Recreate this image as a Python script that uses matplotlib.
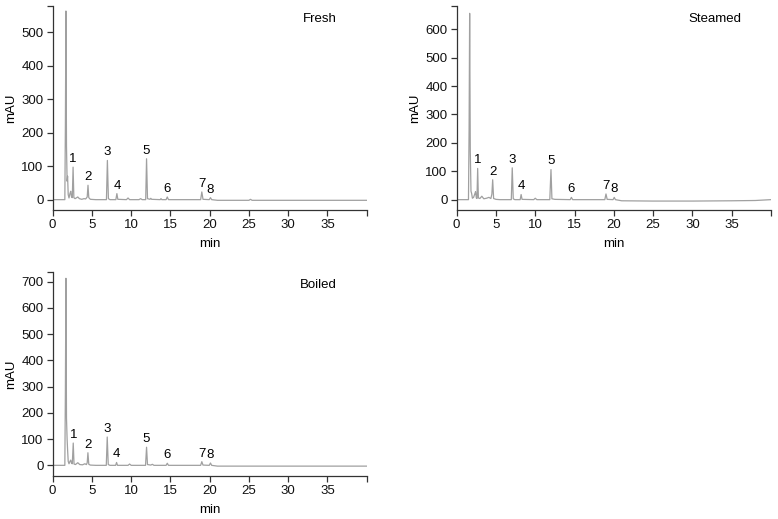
import matplotlib.pyplot as plt

plt.rcParams['font.family'] = ['Liberation Sans', 'DejaVu Sans']
plt.rcParams['font.size'] = 9.5

# Chromatogram traces (time in min, signal in mAU)
fresh_time = [0, 1.55, 1.62, 1.69, 1.76, 1.84, 1.9, 1.98, 2.08, 2.2, 2.3, 2.4, 2.5, 2.6, 2.7,
              2.85, 3.0, 3.2, 3.4, 3.7, 4.0, 4.2, 4.4, 4.5, 4.6, 4.8, 5.5, 6.85, 6.97, 7.1,
              7.3, 8.05, 8.18, 8.3, 9.4, 9.6, 9.8, 11.0, 11.2, 11.4, 11.85, 11.96, 12.08, 12.4,
              12.5, 12.6, 13.7, 13.8, 13.9, 14.45, 14.6, 14.75, 18.85, 19.0, 19.15, 19.95,
              20.1, 20.25, 21.0, 25.0, 25.2, 25.4, 30.0, 40.0]
fresh_signal = [0, 0, 220, 563, 160, 55, 70, 15, 5, 18, 25, 8, 6, 97, 6,
                3, 5, 8, 3, 1, 3, 2, 8, 43, 6, 1, 0, 0, 117, 3,
                0, 0, 18, 1, 0, 5, 0, 0, 3, 0, 0, 122, 3, 1,
                4, 1, 0, 3, 0, 0, 8, 0, 0, 23, 1, 0,
                6, 0, -2, -2, 1, -2, -2, -2]

steamed_time = [0, 1.5, 1.58, 1.65, 1.73, 1.82, 1.9, 2.0, 2.15, 2.3, 2.4, 2.5, 2.58, 2.67, 2.76,
                2.95, 3.2, 3.45, 3.8, 4.1, 4.35, 4.48, 4.58, 4.7, 5.0, 5.5, 6.95, 7.07, 7.2,
                7.4, 8.08, 8.2, 8.32, 9.8, 10.0, 10.2, 11.85, 12.0, 12.12, 12.5, 14.45, 14.6,
                14.75, 18.85, 19.0, 19.15, 19.9, 20.05, 20.2, 21.0, 25.0, 30.0, 35.0, 38.0, 40.0]
steamed_signal = [0, 0, 250, 656, 170, 30, 22, 5, 8, 20, 28, 6, 4, 110, 6,
                  4, 12, 3, 5, 8, 4, 20, 70, 4, 1, 0, 0, 112, 3,
                  0, 0, 18, 1, 0, 5, 0, 0, 106, 3, 1, 0, 8,
                  0, 0, 20, 1, 0, 8, 0, -4, -5, -5, -4, -3, 0]

boiled_time = [0, 1.55, 1.62, 1.69, 1.76, 1.84, 1.9, 1.98, 2.08, 2.2, 2.3, 2.4, 2.5, 2.62, 2.72,
               2.9, 3.2, 3.45, 3.8, 4.1, 4.3, 4.4, 4.49, 4.6, 4.8, 5.5, 6.83, 6.95, 7.08, 7.3,
               8.02, 8.14, 8.26, 9.6, 9.8, 10.0, 11.83, 11.96, 12.08, 12.5, 12.7, 12.9, 14.45,
               14.6, 14.75, 18.85, 19.0, 19.15, 19.95, 20.1, 20.25, 21.0, 25.0, 30.0, 40.0]
boiled_signal = [0, 0, 280, 713, 180, 100, 60, 15, 6, 15, 20, 8, 6, 85, 5,
                 3, 10, 3, 2, 6, 3, 10, 48, 4, 1, 0, 0, 108, 3, 0,
                 0, 11, 0, 0, 5, 0, 0, 69, 3, 1, 4, 0, 0,
                 8, 0, 0, 14, 1, 0, 9, 0, -3, -3, -3, -3]

# Peak labels 1-8: retention time and apex height per sample
label_names = ['1', '2', '3', '4', '5', '6', '7', '8']
fresh_peak_rt = [2.6, 4.5, 6.97, 8.18, 11.96, 14.6, 19.0, 20.1]
fresh_peak_h = [97, 43, 117, 18, 122, 8, 23, 6]
steamed_peak_rt = [2.67, 4.58, 7.07, 8.2, 12.0, 14.6, 19.0, 20.05]
steamed_peak_h = [110, 70, 112, 18, 106, 8, 20, 8]
boiled_peak_rt = [2.62, 4.49, 6.95, 8.14, 11.96, 14.6, 19.0, 20.1]
boiled_peak_h = [85, 48, 108, 11, 69, 8, 14, 9]

panels = [
    ('Fresh', fresh_time, fresh_signal, fresh_peak_rt, fresh_peak_h, 578, [0, 100, 200, 300, 400, 500]),
    ('Steamed', steamed_time, steamed_signal, steamed_peak_rt, steamed_peak_h, 682,
     [0, 100, 200, 300, 400, 500, 600]),
    ('Boiled', boiled_time, boiled_signal, boiled_peak_rt, boiled_peak_h, 737,
     [0, 100, 200, 300, 400, 500, 600, 700]),
]
positions = [[0.0677, 0.5948, 0.4036, 0.3937],
             [0.587, 0.5948, 0.404, 0.3937],
             [0.0677, 0.0829, 0.4036, 0.393]]

fig = plt.figure(figsize=(7.78, 5.19), dpi=100)

for (name, t, s, rt, h, ytop, yt), pos in zip(panels, positions):
    ax = fig.add_axes(pos)
    ax.plot(t, s, color='#a0a0a0', lw=0.9)
    ax.set_xlim(0, 40)
    ax.set_ylim(-0.055 * ytop, ytop)
    ax.set_xticks(list(range(0, 45, 5)), [str(v) for v in range(0, 40, 5)] + [''])
    ax.set_yticks(yt + [ytop], [str(v) for v in yt] + [''])
    for side in ['top', 'right']:
        ax.spines[side].set_visible(False)
    for side in ['left', 'bottom']:
        ax.spines[side].set_color('#333333')
        ax.spines[side].set_linewidth(0.9)
    ax.tick_params(direction='out', length=4, width=0.9, color='#333333', labelcolor='#111111', pad=2.5)
    ax.set_xlabel('min', labelpad=5)
    ax.set_ylabel('mAU', labelpad=3)
    for lab, x, y in zip(label_names, rt, h):
        ax.annotate(lab, (x, y), xytext=(0, 1.5), textcoords='offset points',
                    ha='center', va='bottom', fontsize=9.5)
    ax.text(0.905, 0.935, name, transform=ax.transAxes, ha='right', va='center', fontsize=9.5)

fig.savefig('out.png', dpi=100)
